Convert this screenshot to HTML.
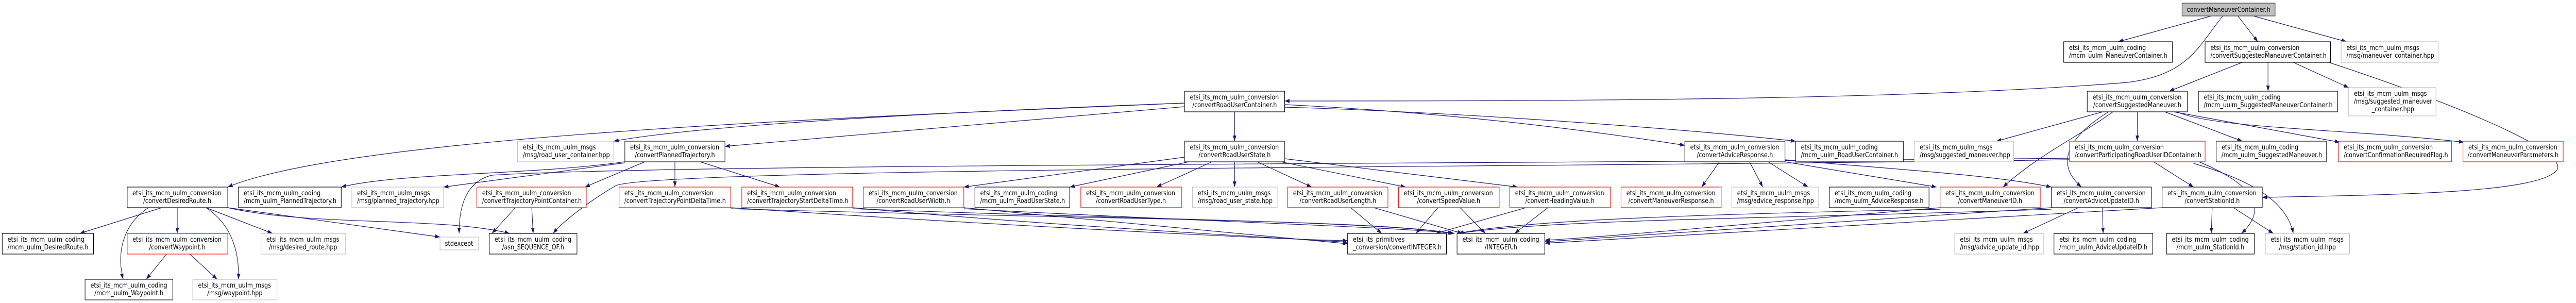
<!DOCTYPE html>
<html><head><meta charset="utf-8"><meta name="viewport" content="width=5813"><style>
html,body{margin:0;padding:0;background:#fff;width:100%;height:100%;overflow:hidden;}
svg{display:block;width:100vw;height:100vh;}
text{font-family:"DejaVu Sans","Liberation Sans",sans-serif;font-size:13px;fill:#000;}
.k{fill:#fff;stroke:#000;stroke-width:1.2}
.g{fill:#fff;stroke:#bfbfbf;stroke-width:1.2}
.r{fill:#fff;stroke:#ff0000;stroke-width:1.2}
.d{fill:#fff;stroke:#404040;stroke-width:1.5}
.e path{fill:none;stroke:#191970;stroke-width:1.2;marker-end:url(#a)}
.m{text-anchor:middle}
</style></head><body>
<svg viewBox="0 0 5813 588" preserveAspectRatio="none" xmlns="http://www.w3.org/2000/svg">
<defs><marker id="a" markerWidth="11" markerHeight="8" refX="11" refY="4" orient="auto" markerUnits="userSpaceOnUse"><path d="M0,0L11,4L0,8z" fill="#191970"/></marker></defs>
<rect width="5813" height="588" fill="#fff"/>
<g class="e">
<path d="M4990,31 L4780,81"/>
<path d="M5050,31 L5095,81"/>
<path d="M5085,31 L5295,81"/>
<path d="M5016,31 C4960,90 4940,145 4800,160 C4300,195 3500,196 2899,196"/>
<path d="M5060,121 L4895,177"/>
<path d="M5118,121 L5118,177"/>
<path d="M5175,121 L5300,170"/>
<path d="M5255,121 C5500,190 5800,290 5770,330 C5730,375 5400,378 5105,383"/>
<path d="M4745,217 L4505,274"/>
<path d="M4823,217 L4823,274"/>
<path d="M4885,217 L5060,274"/>
<path d="M4905,217 L5280,276"/>
<path d="M4912,217 C5000,250 5300,250 5560,276"/>
<path d="M4768,217 C4700,260 4600,300 4520,363"/>
<path d="M4758,217 C4660,270 4640,320 4697,363"/>
<path d="M2673,200 C2000,225 800,260 514,363"/>
<path d="M2673,200 C2200,215 1600,240 1385,274"/>
<path d="M2673,207 L1636,284"/>
<path d="M2786,217 L2786,274"/>
<path d="M2899,203 C3300,220 3600,255 3802,282"/>
<path d="M2899,208 C3300,218 3800,250 4052,274"/>
<path d="M1410,314 C1200,340 900,335 770,363"/>
<path d="M1410,316 L1001,363"/>
<path d="M1455,314 L1320,363"/>
<path d="M1523,314 L1523,363"/>
<path d="M1580,314 L1760,363"/>
<path d="M4670,307 C3500,318 1500,318 1110,340 C1040,355 1036,420 1036,453"/>
<path d="M4670,310 C3500,325 1500,325 1390,360 C1330,390 1270,430 1248,453"/>
<path d="M1163,403 L1110,453"/>
<path d="M1200,403 L1203,453"/>
<path d="M365,403 L180,453"/>
<path d="M335,403 C270,440 265,500 278,542"/>
<path d="M400,403 L400,453"/>
<path d="M465,403 C530,440 540,500 538,542"/>
<path d="M465,403 L615,453"/>
<path d="M514,403 L993,460"/>
<path d="M514,403 C700,440 1000,420 1150,453"/>
<path d="M376,493 L330,542"/>
<path d="M428,493 L490,542"/>
<path d="M2673,305 L2175,363"/>
<path d="M2683,314 L2414,363"/>
<path d="M2735,314 L2610,363"/>
<path d="M2786,314 L2786,363"/>
<path d="M2837,314 L2960,363"/>
<path d="M2890,314 L3172,363"/>
<path d="M2899,308 L3425,363"/>
<path d="M1649,403 C2300,440 2900,465 3041,467"/>
<path d="M1649,405 C2400,425 3100,425 3278,453"/>
<path d="M1924,403 C2400,440 2900,462 3041,470"/>
<path d="M1924,405 C2500,425 3100,428 3280,453"/>
<path d="M2175,403 C2600,440 2900,462 3041,473"/>
<path d="M2175,405 C2700,430 3150,440 3282,453"/>
<path d="M3048,403 L3118,453"/>
<path d="M3100,403 L3300,453"/>
<path d="M3245,403 L3195,453"/>
<path d="M3295,403 L3352,453"/>
<path d="M3443,403 L3240,453"/>
<path d="M3493,403 L3418,453"/>
<path d="M4378,403 C4000,430 3600,462 3486,466"/>
<path d="M4378,406 C3900,415 3450,425 3290,453"/>
<path d="M4629,403 C4000,440 3600,465 3486,469"/>
<path d="M4629,406 C4000,425 3500,425 3292,453"/>
<path d="M4879,403 C4200,440 3600,468 3486,472"/>
<path d="M3880,314 L3840,363"/>
<path d="M3948,314 L3978,363"/>
<path d="M3990,314 L4080,363"/>
<path d="M4028,314 L4370,363"/>
<path d="M4028,310 C4300,330 4500,340 4629,363"/>
<path d="M4690,403 L4565,453"/>
<path d="M4744,403 L4746,453"/>
<path d="M4992,403 L4990,453"/>
<path d="M5040,403 L5130,453"/>
<path d="M4860,314 L4950,363"/>
<path d="M4962,314 C5120,370 5100,420 5058,453"/>
<path d="M4950,317 C5080,350 5160,390 5175,453"/>
</g>
<rect x="4924" y="6" width="210" height="25" fill="#bfbfbf" stroke="#404040" stroke-width="1.2"/>
<text class="m" x="5029" y="23">convertManeuverContainer.h</text>

<rect class="k" x="4657" y="81" width="245" height="40"/><text x="4669" y="97">etsi_its_mcm_uulm_coding</text><text x="4669" y="112">/mcm_uulm_ManeuverContainer.h</text>
<rect class="k" x="4976" y="81" width="283" height="40"/><text x="4988" y="97">etsi_its_mcm_uulm_conversion</text><text x="4988" y="112">/convertSuggestedManeuverContainer.h</text>
<rect class="g" x="5283" y="81" width="219" height="40"/><text x="5295" y="97">etsi_its_mcm_uulm_msgs</text><text x="5295" y="112">/msg/maneuver_container.hpp</text>

<rect class="k" x="2673" y="177" width="226" height="40"/><text x="2685" y="193">etsi_its_mcm_uulm_conversion</text><text class="m" x="2786" y="208">/convertRoadUserContainer.h</text>
<rect class="k" x="4710" y="177" width="226" height="40"/><text x="4722" y="193">etsi_its_mcm_uulm_conversion</text><text class="m" x="4823" y="208">/convertSuggestedManeuver.h</text>
<rect class="k" x="4961" y="177" width="314" height="40"/><text x="4973" y="193">etsi_its_mcm_uulm_coding</text><text x="4973" y="208">/mcm_uulm_SuggestedManeuverContainer.h</text>
<rect class="g" x="5300" y="170" width="197" height="55"/><text x="5312" y="186">etsi_its_mcm_uulm_msgs</text><text x="5312" y="201">/msg/suggested_maneuver</text><text class="m" x="5400" y="216">_container.hpp</text>

<rect class="g" x="1168" y="274" width="217" height="40"/><text x="1180" y="290">etsi_its_mcm_uulm_msgs</text><text x="1180" y="305">/msg/road_user_container.hpp</text>
<rect class="d" x="1410" y="274" width="226" height="40"/><text x="1422" y="290">etsi_its_mcm_uulm_conversion</text><text class="m" x="1523" y="305">/convertPlannedTrajectory.h</text>
<rect class="d" x="2673" y="274" width="226" height="40"/><text x="2685" y="290">etsi_its_mcm_uulm_conversion</text><text class="m" x="2786" y="305">/convertRoadUserState.h</text>
<rect class="k" x="3802" y="274" width="226" height="40"/><text x="3814" y="290">etsi_its_mcm_uulm_conversion</text><text class="m" x="3915" y="305">/convertAdviceResponse.h</text>
<rect class="k" x="4052" y="274" width="243" height="40"/><text x="4064" y="290">etsi_its_mcm_uulm_coding</text><text x="4064" y="305">/mcm_uulm_RoadUserContainer.h</text>
<rect class="g" x="4320" y="274" width="224" height="40"/><text x="4332" y="290">etsi_its_mcm_uulm_msgs</text><text x="4332" y="305">/msg/suggested_maneuver.hpp</text>
<rect class="r" x="4670" y="274" width="306" height="40"/><text x="4682" y="290">etsi_its_mcm_uulm_conversion</text><text x="4682" y="305">/convertParticipatingRoadUserIDContainer.h</text>
<rect class="d" x="5001" y="274" width="249" height="40"/><text x="5013" y="290">etsi_its_mcm_uulm_coding</text><text x="5013" y="305">/mcm_uulm_SuggestedManeuver.h</text>
<rect class="r" x="5277" y="274" width="255" height="40"/><text x="5289" y="290">etsi_its_mcm_uulm_conversion</text><text x="5289" y="305">/convertConfirmationRequiredFlag.h</text>
<rect class="r" x="5558" y="274" width="226" height="40"/><text x="5570" y="290">etsi_its_mcm_uulm_conversion</text><text class="m" x="5671" y="305">/convertManeuverParameters.h</text>

<rect class="k" x="287" y="363" width="227" height="40"/><text x="299" y="379">etsi_its_mcm_uulm_conversion</text><text class="m" x="400" y="394">/convertDesiredRoute.h</text>
<rect class="k" x="538" y="363" width="232" height="40"/><text x="550" y="379">etsi_its_mcm_uulm_coding</text><text x="550" y="394">/mcm_uulm_PlannedTrajectory.h</text>
<rect class="g" x="794" y="363" width="207" height="40"/><text x="806" y="379">etsi_its_mcm_uulm_msgs</text><text x="806" y="394">/msg/planned_trajectory.hpp</text>
<rect class="r" x="1076" y="363" width="247" height="40"/><text x="1088" y="379">etsi_its_mcm_uulm_conversion</text><text x="1088" y="394">/convertTrajectoryPointContainer.h</text>
<rect class="r" x="1397" y="363" width="252" height="40"/><text x="1409" y="379">etsi_its_mcm_uulm_conversion</text><text x="1409" y="394">/convertTrajectoryPointDeltaTime.h</text>
<rect class="r" x="1674" y="363" width="250" height="40"/><text x="1686" y="379">etsi_its_mcm_uulm_conversion</text><text x="1686" y="394">/convertTrajectoryStartDeltaTime.h</text>
<rect class="r" x="1948" y="363" width="227" height="40"/><text x="1960" y="379">etsi_its_mcm_uulm_conversion</text><text class="m" x="2061" y="394">/convertRoadUserWidth.h</text>
<rect class="k" x="2200" y="363" width="214" height="40"/><text x="2212" y="379">etsi_its_mcm_uulm_coding</text><text x="2212" y="394">/mcm_uulm_RoadUserState.h</text>
<rect class="r" x="2439" y="363" width="227" height="40"/><text x="2451" y="379">etsi_its_mcm_uulm_conversion</text><text class="m" x="2552" y="394">/convertRoadUserType.h</text>
<rect class="g" x="2691" y="363" width="191" height="40"/><text x="2703" y="379">etsi_its_mcm_uulm_msgs</text><text x="2703" y="394">/msg/road_user_state.hpp</text>
<rect class="r" x="2906" y="363" width="226" height="40"/><text x="2918" y="379">etsi_its_mcm_uulm_conversion</text><text class="m" x="3019" y="394">/convertRoadUserLength.h</text>
<rect class="r" x="3156" y="363" width="227" height="40"/><text x="3168" y="379">etsi_its_mcm_uulm_conversion</text><text class="m" x="3269" y="394">/convertSpeedValue.h</text>
<rect class="r" x="3407" y="363" width="227" height="40"/><text x="3419" y="379">etsi_its_mcm_uulm_conversion</text><text class="m" x="3520" y="394">/convertHeadingValue.h</text>
<rect class="r" x="3658" y="363" width="226" height="40"/><text x="3670" y="379">etsi_its_mcm_uulm_conversion</text><text class="m" x="3771" y="394">/convertManeuverResponse.h</text>
<rect class="g" x="3908" y="363" width="195" height="40"/><text x="3920" y="379">etsi_its_mcm_uulm_msgs</text><text x="3920" y="394">/msg/advice_response.hpp</text>
<rect class="k" x="4128" y="363" width="225" height="40"/><text x="4140" y="379">etsi_its_mcm_uulm_coding</text><text x="4140" y="394">/mcm_uulm_AdviceResponse.h</text>
<rect class="r" x="4378" y="363" width="226" height="40"/><text x="4390" y="379">etsi_its_mcm_uulm_conversion</text><text class="m" x="4491" y="394">/convertManeuverID.h</text>
<rect class="k" x="4629" y="363" width="226" height="40"/><text x="4641" y="379">etsi_its_mcm_uulm_conversion</text><text class="m" x="4742" y="394">/convertAdviceUpdateID.h</text>
<rect class="k" x="4879" y="363" width="226" height="40"/><text x="4891" y="379">etsi_its_mcm_uulm_conversion</text><text class="m" x="4992" y="394">/convertStationId.h</text>

<rect class="k" x="5" y="453" width="206" height="40"/><text x="17" y="469">etsi_its_mcm_uulm_coding</text><text x="17" y="484">/mcm_uulm_DesiredRoute.h</text>
<rect class="r" x="287" y="453" width="227" height="40"/><text x="299" y="469">etsi_its_mcm_uulm_conversion</text><text class="m" x="400" y="484">/convertWaypoint.h</text>
<rect class="g" x="589" y="453" width="191" height="40"/><text x="601" y="469">etsi_its_mcm_uulm_msgs</text><text class="m" x="684" y="484">/msg/desired_route.hpp</text>
<rect class="g" x="993" y="460" width="87" height="25"/><text class="m" x="1036" y="477">stdexcept</text>
<rect class="k" x="1104" y="453" width="198" height="40"/><text x="1116" y="469">etsi_its_mcm_uulm_coding</text><text class="m" x="1203" y="484">/asn_SEQUENCE_OF.h</text>
<rect class="k" x="3041" y="453" width="223" height="40"/><text x="3053" y="469">etsi_its_primitives</text><text x="3053" y="484">_conversion/convertINTEGER.h</text>
<rect class="k" x="3288" y="453" width="198" height="40"/><text x="3300" y="469">etsi_its_mcm_uulm_coding</text><text class="m" x="3387" y="484">/INTEGER.h</text>
<rect class="g" x="4411" y="453" width="200" height="40"/><text x="4423" y="469">etsi_its_mcm_uulm_msgs</text><text x="4423" y="484">/msg/advice_update_id.hpp</text>
<rect class="k" x="4635" y="453" width="223" height="40"/><text x="4647" y="469">etsi_its_mcm_uulm_coding</text><text x="4647" y="484">/mcm_uulm_AdviceUpdateID.h</text>
<rect class="k" x="4889" y="453" width="198" height="40"/><text x="4901" y="469">etsi_its_mcm_uulm_coding</text><text class="m" x="4988" y="484">/mcm_uulm_StationId.h</text>
<rect class="g" x="5112" y="453" width="190" height="40"/><text x="5124" y="469">etsi_its_mcm_uulm_msgs</text><text class="m" x="5207" y="484">/msg/station_id.hpp</text>

<rect class="d" x="192" y="542" width="198" height="40"/><text x="204" y="558">etsi_its_mcm_uulm_coding</text><text class="m" x="291" y="573">/mcm_uulm_Waypoint.h</text>
<rect class="g" x="435" y="542" width="190" height="40"/><text x="447" y="558">etsi_its_mcm_uulm_msgs</text><text class="m" x="530" y="573">/msg/waypoint.hpp</text>
</svg>
</body></html>
